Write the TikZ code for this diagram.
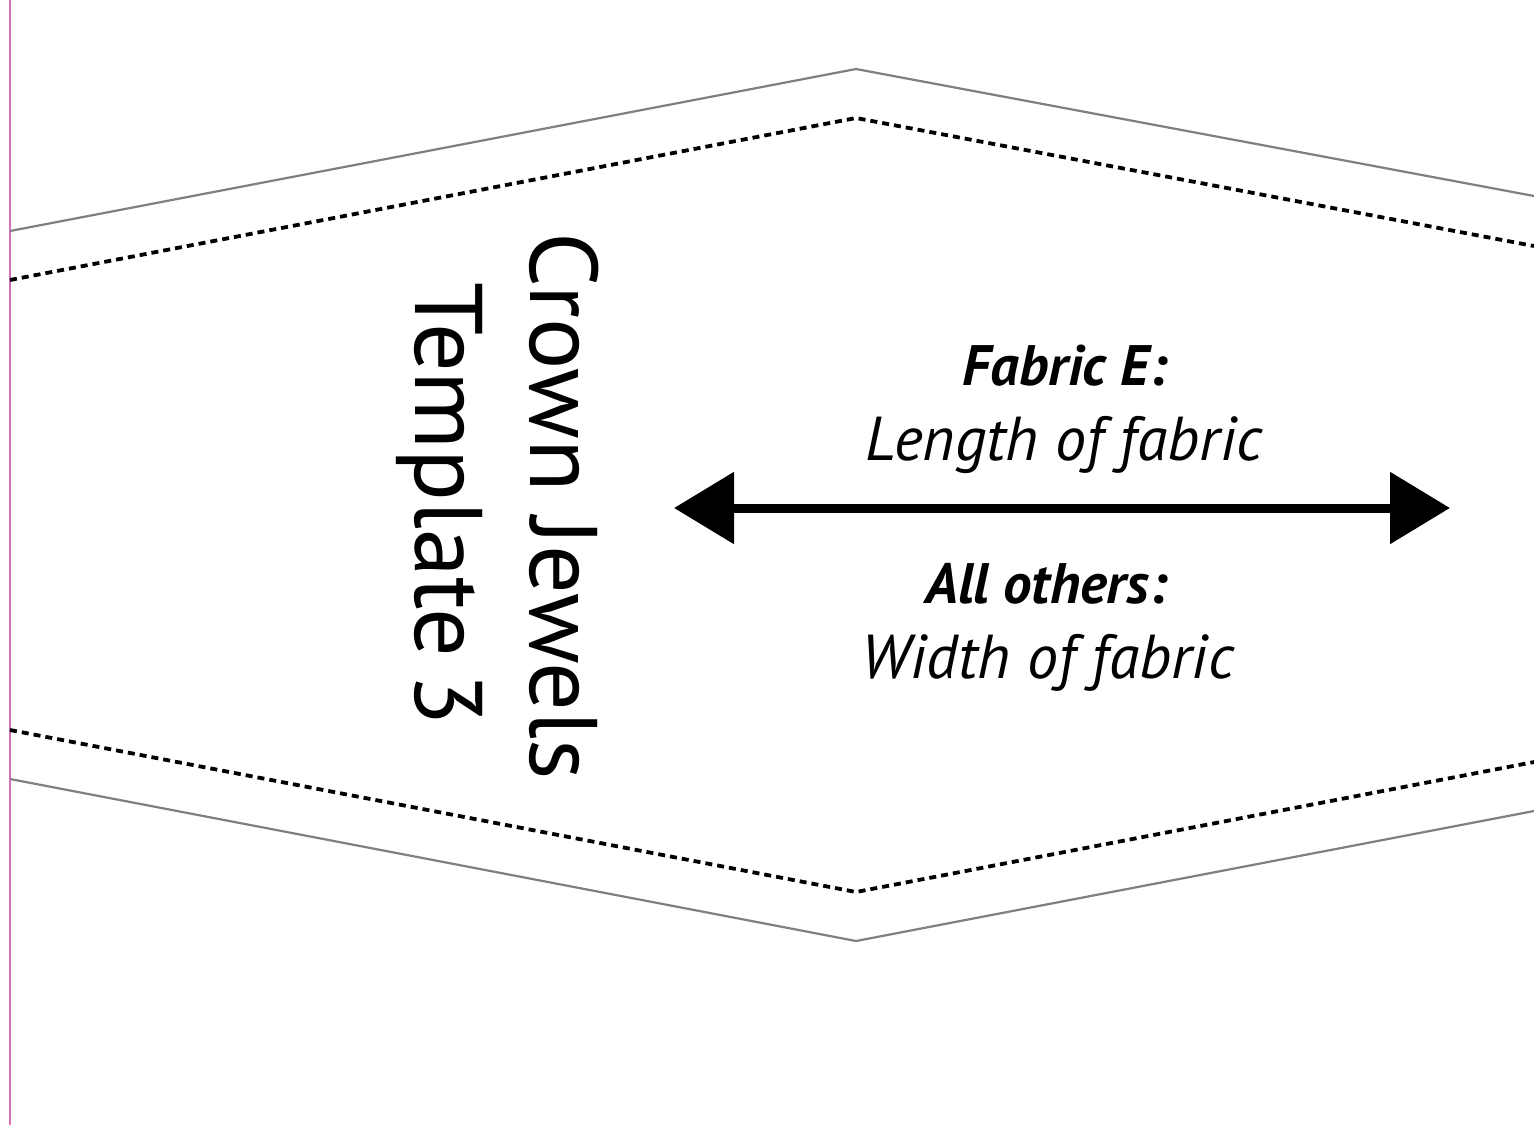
\documentclass[tikz,border=0pt]{standalone}
\usepackage{fontspec}
\setmainfont{PT Sans}
\usetikzlibrary{arrows.meta}
\definecolor{trim}{HTML}{D070B8}
\definecolor{cutline}{HTML}{808080}
\tikzset{
  cutedge/.style={draw=cutline, line width=2.2pt, line join=miter},
  seamline/.style={draw=black, line width=3.8pt, dash pattern=on 7pt off 5pt},
  grain/.style={line width=9pt, {Triangle[length=60pt,width=70pt]}-{Triangle[length=60pt,width=70pt]}},
  bigtitle/.style={rotate=-90, anchor=base, inner sep=0pt, font=\fontsize{96}{110}\selectfont},
  label/.style={anchor=base, inner sep=0pt, font=\fontsize{62}{72}\selectfont\itshape},
  labelhead/.style={label, font=\fontsize{57}{68}\selectfont\bfseries\itshape}
}
\begin{document}
\begin{tikzpicture}[x=1pt,y=-1pt]
\useasboundingbox[fill=white] (0,0) rectangle (1534,1125);
% trim line
\draw[trim, line width=2.4pt] (10,0) -- (10,1125);
% cutting edges
\draw[cutedge] (10,231) -- (856,69) -- (1534,196);
\draw[cutedge] (10,779) -- (856,941) -- (1534,811);
% seam lines
\draw[seamline] (10,280) -- (856,118) -- (1534,246);
\draw[seamline] (10,730) -- (856,892) -- (1534,762);
% title
\node[bigtitle] (t1) at (530,506) {Crown Jewels};
\node[bigtitle] (t2) at (415,504) {Template\hspace{-0.1em} 3};
% grain arrow
\coordinate (la) at (674,508);
\coordinate (ra) at (1450,508);
\draw[grain] (la) -- (ra);
% labels
\node[labelhead] (f1) at (1065,385) {Fabric E:};
\node[label] (f2) at (1064,460) {Length of fabric};
\node[labelhead] (a1) at (1046,603) {All others:};
\node[label] (a2) at (1048,678) {Width of fabric};
\end{tikzpicture}
\end{document}
